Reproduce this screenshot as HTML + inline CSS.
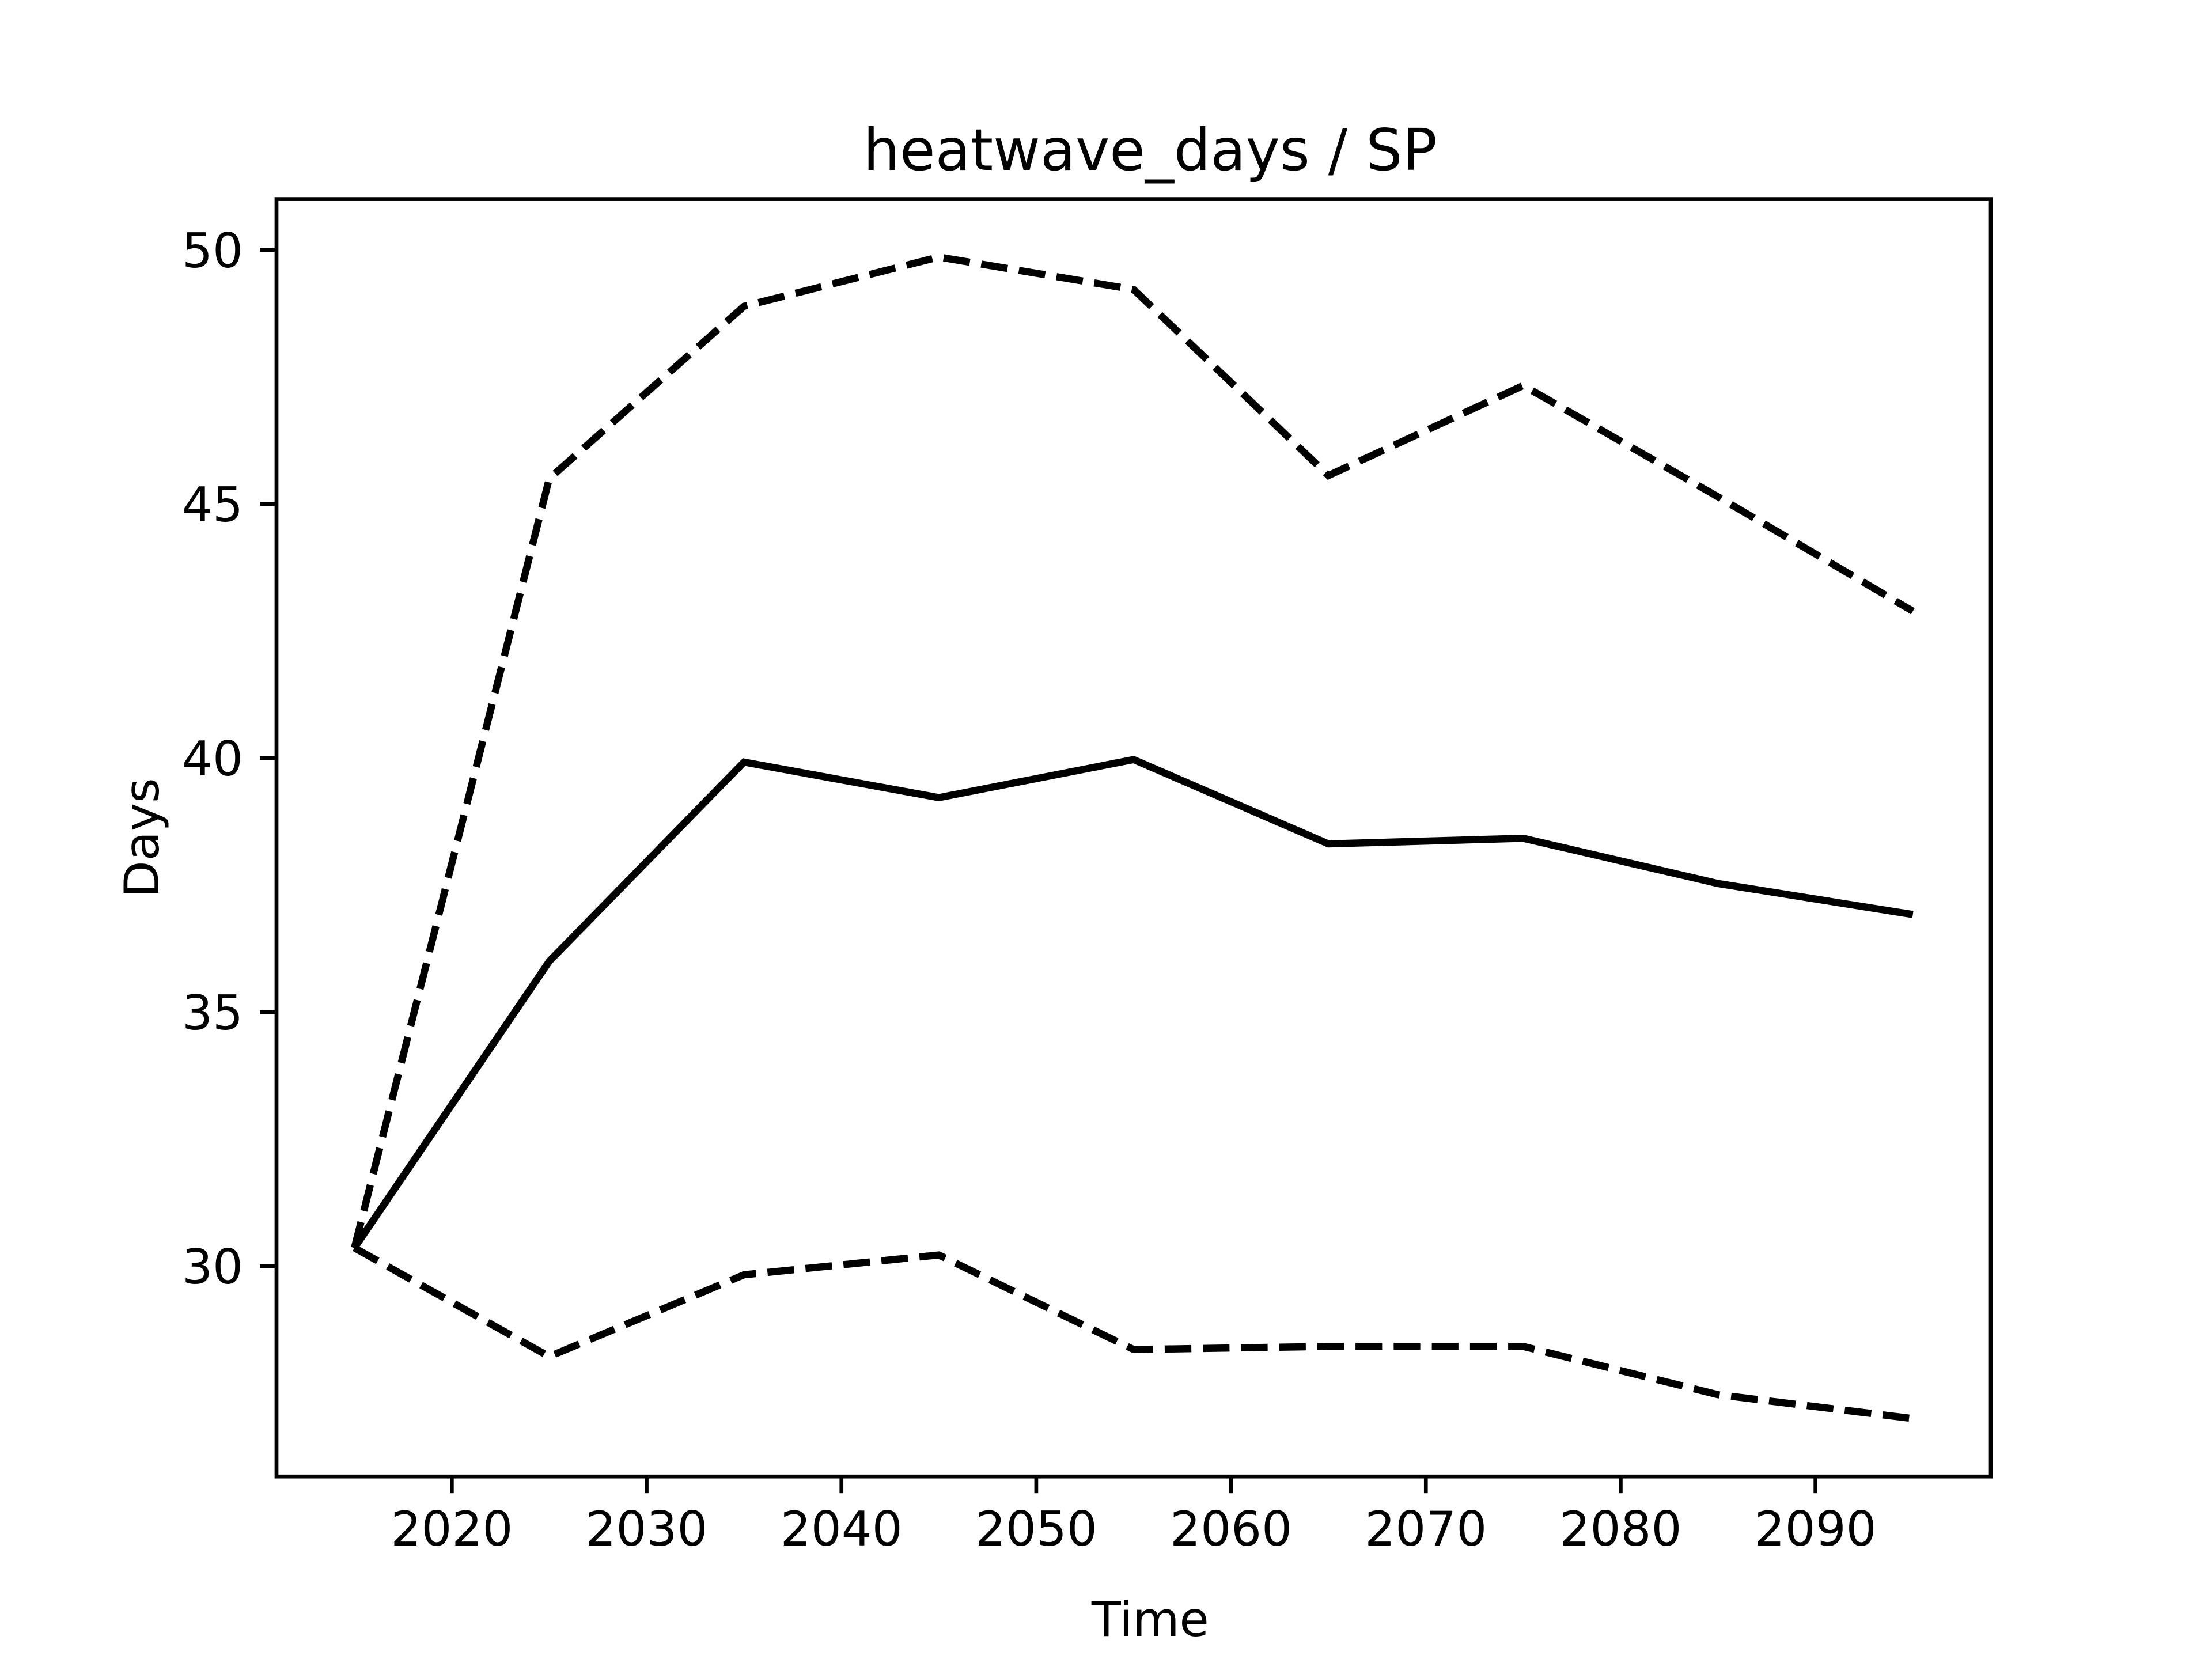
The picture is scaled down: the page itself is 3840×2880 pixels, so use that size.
<!DOCTYPE html>
<html><head><meta charset="utf-8"><style>
html,body{margin:0;padding:0;background:#fff}
svg{display:block}
text{font-family:"DejaVu Sans","Liberation Sans",sans-serif;fill:#000}
</style></head><body>
<svg id="chart" width="3840" height="2880" viewBox="0 0 3840 2880" xmlns="http://www.w3.org/2000/svg">
<rect width="3840" height="2880" fill="#fff"/>
<text x="1996.8" y="295" font-size="100" text-anchor="middle">heatwave_days / SP</text>
<g id="plot"></g>
<g id="xticks"></g>
<g id="yticks"></g>
<rect x="480" y="345.6" width="2976" height="2217.6" fill="none" stroke="#000" stroke-width="6.67"/>
<text x="1996.8" y="2840" font-size="83.3" text-anchor="middle">Time</text>
<text transform="translate(275,1454.4) rotate(-90)" font-size="83.3" text-anchor="middle">Days</text>
</svg>
<script>
const years = [2015,2025,2035,2045,2055,2065,2075,2085,2095];
const meanVals = [30.36,36.0,39.92,39.22,39.97,38.31,38.42,37.53,36.92];
const upperVals = [30.36,45.5,48.89,49.86,49.22,45.56,47.33,45.14,42.89];
const lowerVals = [30.36,28.22,29.83,30.22,28.36,28.42,28.42,27.47,27.0];
const xTicks = [2020,2030,2040,2050,2060,2070,2080,2090];
const yTicks = [30,35,40,45,50];

const NS="http://www.w3.org/2000/svg";
const L=480,R=3456,T=345.6,B=2563.2;
const xMin=2011,xMax=2099,yMin=25.86,yMax=51.0;
const sx=v=>L+(v-xMin)/(xMax-xMin)*(R-L);
const sy=v=>B-(v-yMin)/(yMax-yMin)*(B-T);
function mk(tag,attrs,parent){const e=document.createElementNS(NS,tag);for(const k in attrs)e.setAttribute(k,attrs[k]);parent.appendChild(e);return e;}
const plot=document.getElementById('plot');
function line(vals,name,dash){
  const d=vals.map((v,i)=>(i?'L':'M')+sx(years[i]).toFixed(1)+','+sy(v).toFixed(1)).join(' ');
  const p=mk('path',{d:d,fill:'none',stroke:'#000','stroke-width':12.5},plot);
  if(dash)p.setAttribute('stroke-dasharray','46.25,20');
  
  
}
line(upperVals,'upper-bound-line',true);
line(lowerVals,'lower-bound-line',true);
line(meanVals,'mean-line',false);
const xg=document.getElementById('xticks');
xTicks.forEach(t=>{
  const x=sx(t);
  const l=mk('line',{x1:x,x2:x,y1:B,y2:B+29,stroke:'#000','stroke-width':6.67},xg);
  
  
  const tx=mk('text',{x:x,y:B+120,'font-size':83.3,'text-anchor':'middle'},xg);
  tx.textContent=t;
  
  
});
const yg=document.getElementById('yticks');
yTicks.forEach(t=>{
  const y=sy(t);
  const l=mk('line',{x1:L-29,x2:L,y1:y,y2:y,stroke:'#000','stroke-width':6.67},yg);
  
  
  const tx=mk('text',{x:L-58,y:y+30,'font-size':83.3,'text-anchor':'end'},yg);
  tx.textContent=t;
  
  
});
</script>
</body></html>
